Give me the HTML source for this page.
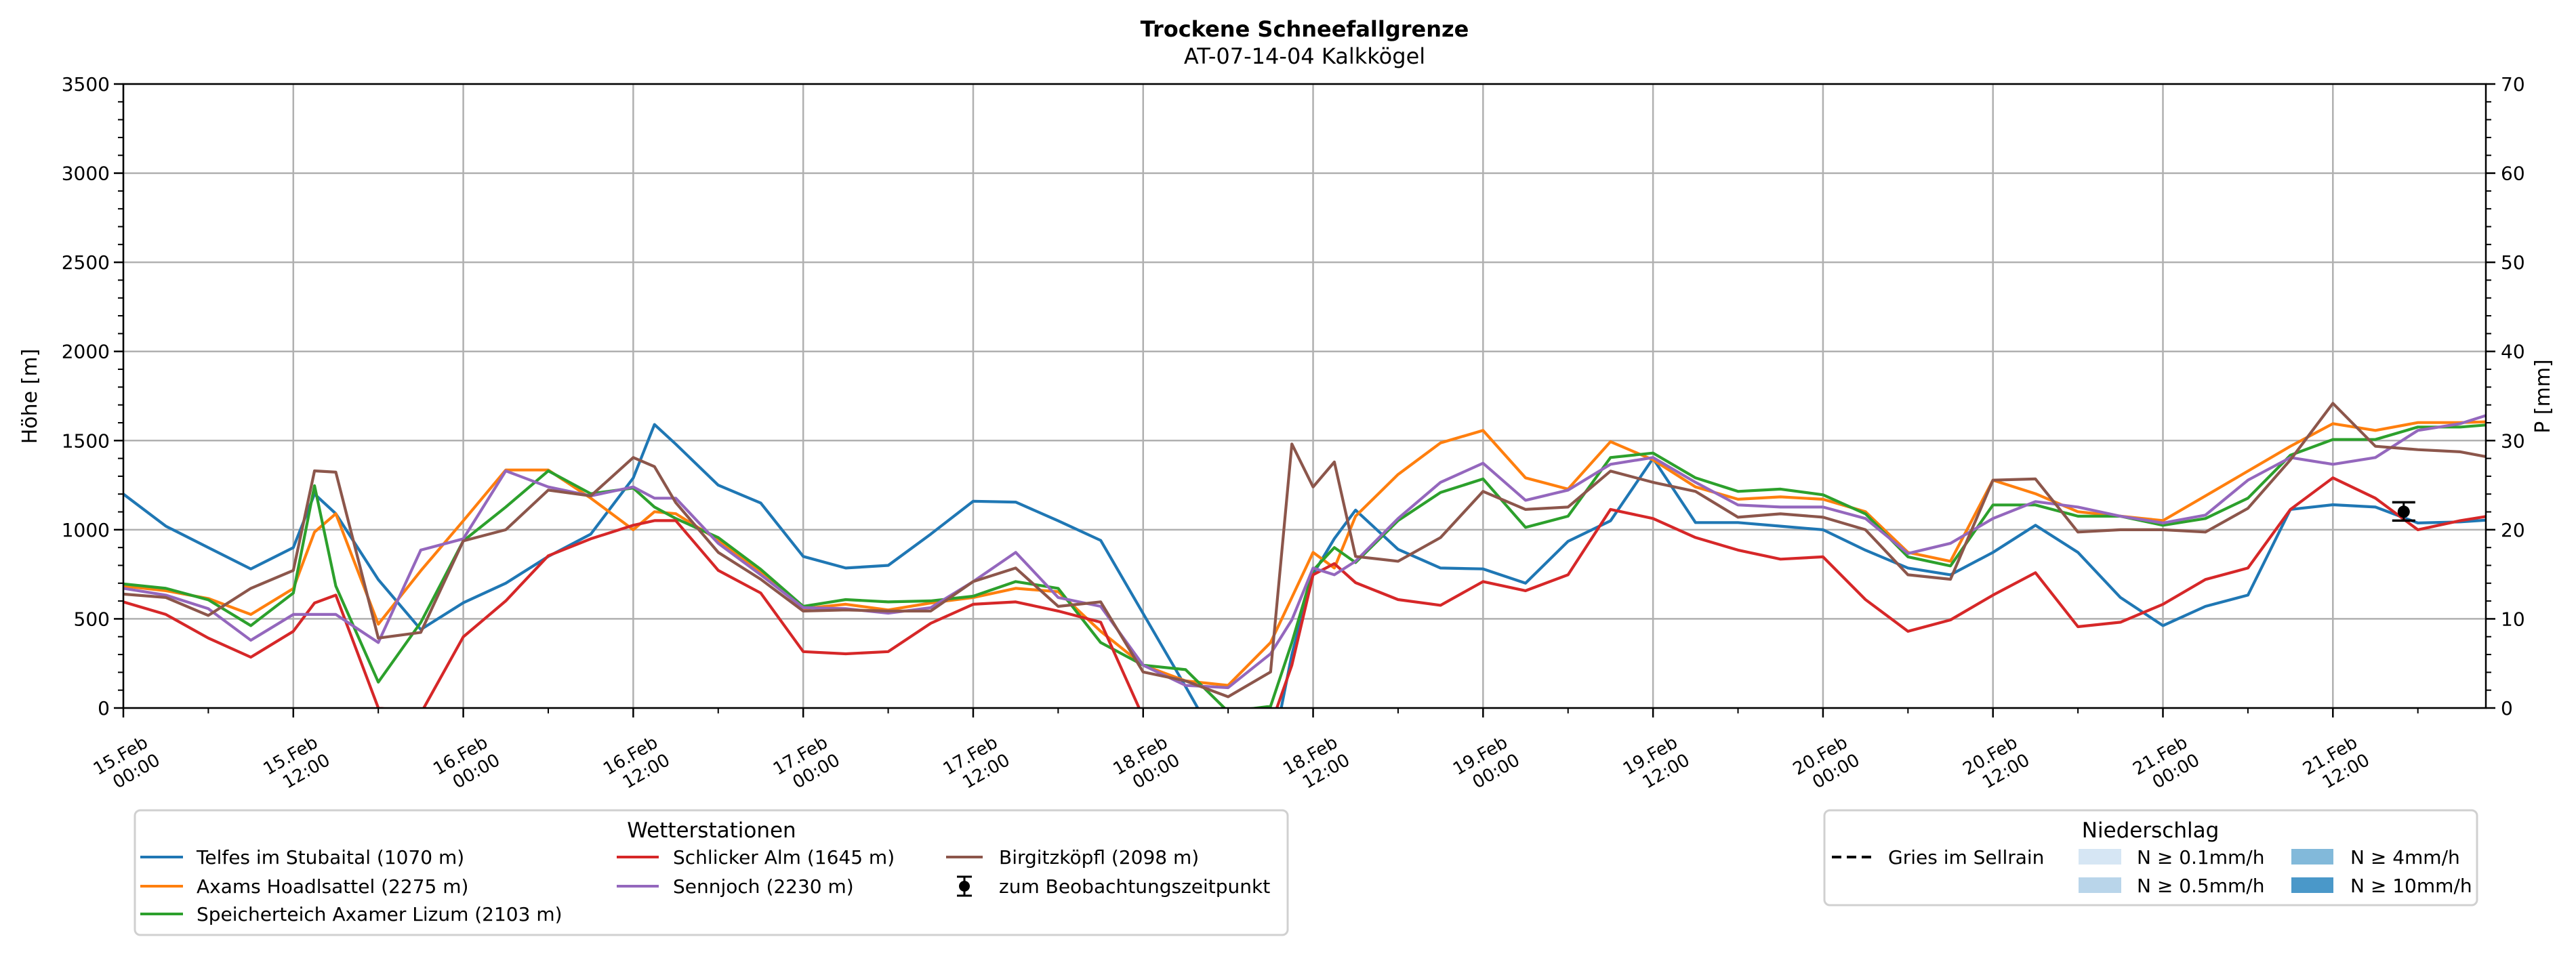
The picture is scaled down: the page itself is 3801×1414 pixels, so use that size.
<!DOCTYPE html>
<html><head><meta charset="utf-8"><title>Trockene Schneefallgrenze</title>
<style>
html,body{margin:0;padding:0;background:#fff;}
svg{display:block;font-family:"DejaVu Sans","Liberation Sans",sans-serif;}
</style></head>
<body>
<svg id="chart" width="3801" height="1414" viewBox="0 0 3801 1414" xmlns="http://www.w3.org/2000/svg">
<defs><clipPath id="plotclip"><rect x="182" y="124" width="3486" height="921"/></clipPath></defs>
<rect x="0" y="0" width="3801" height="1414" fill="#fff"/>
<text x="1925" y="54" text-anchor="middle" font-size="32" font-weight="bold">Trockene Schneefallgrenze</text>
<text x="1925" y="94" text-anchor="middle" font-size="32">AT-07-14-04 Kalkkögel</text>
<g id="grid"></g>
<g id="series" clip-path="url(#plotclip)"></g>
<g id="axes"></g>
<text transform="translate(54,585) rotate(-90)" text-anchor="middle" font-size="30">Höhe [m]</text>
<text transform="translate(3762,585) rotate(-90)" text-anchor="middle" font-size="30">P [mm]</text>

<g>
<rect x="199" y="1196" width="1701" height="184" rx="8" fill="#fff" stroke="#d0d0d0" stroke-width="3"/>
<text x="1050" y="1236" text-anchor="middle" font-size="31">Wetterstationen</text>
<g font-size="28">
<line x1="207" y1="1265" x2="270" y2="1265" stroke="#1f77b4" stroke-width="4"/>
<text x="290" y="1275">Telfes im Stubaital (1070 m)</text>
<line x1="207" y1="1308" x2="270" y2="1308" stroke="#ff7f0e" stroke-width="4"/>
<text x="290" y="1318">Axams Hoadlsattel (2275 m)</text>
<line x1="207" y1="1349" x2="270" y2="1349" stroke="#2ca02c" stroke-width="4"/>
<text x="290" y="1359">Speicherteich Axamer Lizum (2103 m)</text>
<line x1="910" y1="1265" x2="972" y2="1265" stroke="#d62728" stroke-width="4"/>
<text x="993" y="1275">Schlicker Alm (1645 m)</text>
<line x1="910" y1="1308" x2="972" y2="1308" stroke="#9467bd" stroke-width="4"/>
<text x="993" y="1318">Sennjoch (2230 m)</text>
<line x1="1396" y1="1265" x2="1450" y2="1265" stroke="#8c564b" stroke-width="4"/>
<text x="1474" y="1275">Birgitzköpfl (2098 m)</text>
<g>
<line x1="1423" y1="1294" x2="1423" y2="1322" stroke="#000" stroke-width="3"/>
<line x1="1412" y1="1294" x2="1434" y2="1294" stroke="#000" stroke-width="3"/>
<line x1="1412" y1="1322" x2="1434" y2="1322" stroke="#000" stroke-width="3"/>
<circle cx="1423" cy="1308" r="8" fill="#000"/>
</g>
<text x="1474" y="1318">zum Beobachtungszeitpunkt</text>
</g>
</g>

<g>
<rect x="2692" y="1196" width="963" height="140" rx="8" fill="#fff" stroke="#d0d0d0" stroke-width="3"/>
<text x="3173" y="1236" text-anchor="middle" font-size="31">Niederschlag</text>
<g font-size="28">
<line x1="2703" y1="1265" x2="2761" y2="1265" stroke="#000" stroke-width="4" stroke-dasharray="14,8"/>
<text x="2786" y="1275">Gries im Sellrain</text>
<rect x="3067" y="1253" width="63" height="23" fill="#d6e6f4"/>
<text x="3153" y="1275">N ≥ 0.1mm/h</text>
<rect x="3067" y="1295" width="63" height="23" fill="#b9d5ea"/>
<text x="3153" y="1317">N ≥ 0.5mm/h</text>
<rect x="3381" y="1253" width="62" height="23" fill="#82b9da"/>
<text x="3468" y="1275">N ≥ 4mm/h</text>
<rect x="3381" y="1295" width="62" height="23" fill="#4a98c9"/>
<text x="3468" y="1317">N ≥ 10mm/h</text>
</g>
</g>
</svg>
<script>
// data: hours since 15.Feb 00:00
const hours = [0,3,6,9,12,13.5,15,18,21,24,27,30,33,36,37.5,39,42,45,48,51,54,57,60,63,66,69,72,75,78,81,82.5,84,85.5,87,90,93,96,99,102,105,108,111,114,117,120,123,126,129,132,135,138,141,144,147,150,153,156,159,162,165,168];
const telfes = [1200,1020,900,780,900,1200,1090,720,440,590,700,850,975,1290,1590,1480,1250,1150,850,785,800,975,1160,1155,1050,940,530,120,-300,-300,300,750,950,1110,890,785,780,700,935,1050,1400,1040,1040,1020,1000,885,785,747,873,1025,873,620,462,570,633,1114,1140,1127,1038,1044,1060];
const axams = [684,658,614,525,670,987,1090,470,770,1050,1335,1335,1177,1000,1101,1090,943,759,557,582,550,589,620,671,652,430,240,152,127,367,620,873,785,1076,1310,1487,1557,1291,1228,1494,1392,1240,1171,1184,1171,1101,873,823,1278,1202,1101,1076,1051,1190,1329,1468,1595,1557,1601,1601,1608];
const speicherteich = [696,671,607,462,645,1247,684,145,480,937,1127,1330,1202,1234,1127,1063,956,778,570,608,595,601,627,709,671,367,240,215,-20,10,367,772,900,816,1051,1209,1285,1013,1076,1405,1430,1291,1215,1228,1196,1089,848,797,1139,1139,1076,1076,1025,1063,1177,1418,1506,1506,1576,1576,1595];
const schlicker = [595,525,392,285,430,589,633,0,-30,399,601,854,949,1025,1051,1051,772,645,316,304,316,475,582,595,544,481,-50,-100,-100,-100,240,747,810,703,608,576,709,658,747,1114,1063,956,886,835,848,608,430,494,633,759,456,481,582,721,785,1114,1291,1177,1000,1051,1089];
const sennjoch = [671,633,557,380,525,525,525,367,886,949,1330,1240,1190,1240,1177,1177,924,747,563,557,532,563,709,873,620,570,240,127,114,304,494,785,747,823,1063,1266,1373,1165,1222,1367,1405,1266,1139,1127,1127,1063,867,924,1063,1158,1127,1076,1038,1082,1278,1405,1367,1405,1557,1595,1671];
const birgitz = [639,620,519,671,772,1330,1323,392,424,937,1000,1222,1190,1405,1354,1152,873,722,544,550,544,544,709,785,570,595,202,152,63,202,1481,1240,1380,850,823,956,1215,1114,1127,1329,1266,1215,1070,1089,1070,1000,747,722,1278,1285,987,1000,1000,987,1120,1392,1709,1468,1449,1437,1392];
const obsHour = [161];
const obsValue = [1101];
const obsLow = [1051];
const obsHigh = [1154];
const yTicks = [0,500,1000,1500,2000,2500,3000,3500];
const y2Ticks = [0,10,20,30,40,50,60,70];
const xTickHours = [0,12,24,36,48,60,72,84,96,108,120,132,144,156];
const xTickDays = ["15.Feb","15.Feb","16.Feb","16.Feb","17.Feb","17.Feb","18.Feb","18.Feb","19.Feb","19.Feb","20.Feb","20.Feb","21.Feb","21.Feb"];
const xTickTimes = ["00:00","12:00","00:00","12:00","00:00","12:00","00:00","12:00","00:00","12:00","00:00","12:00","00:00","12:00"];

const L=182,R=3668,T=124,B=1045,HMAX=166.8,VMAX=3500,PMAX=70;
const xs = h => L + h*(R-L)/HMAX;
const ys = v => B - v*(B-T)/VMAX;
const ys2 = p => B - p*(B-T)/PMAX;
const NS='http://www.w3.org/2000/svg';
function mk(tag, attrs, parent){const e=document.createElementNS(NS,tag);for(const k in attrs)e.setAttribute(k,attrs[k]);parent.appendChild(e);return e;}
const grid=document.getElementById('grid'), axes=document.getElementById('axes'), series=document.getElementById('series');

yTicks.forEach(v=>{
  const g=mk('line',{x1:L,x2:R,y1:ys(v),y2:ys(v),stroke:'#b0b0b0','stroke-width':2.5},grid);
  
  
  const t=mk('line',{x1:L-14,x2:L,y1:ys(v),y2:ys(v),stroke:'#000','stroke-width':2.5},axes);
  
  
  const lb=mk('text',{x:L-20,y:ys(v)+10,'text-anchor':'end','font-size':28},axes);
  lb.textContent=v;
  
  
});
for(let v=100; v<VMAX; v+=100){ if(v%500===0) continue;
  const t=mk('line',{x1:L-8,x2:L,y1:ys(v),y2:ys(v),stroke:'#000','stroke-width':2},axes);
  
  
}
y2Ticks.forEach(p=>{
  const t=mk('line',{x1:R,x2:R+14,y1:ys2(p),y2:ys2(p),stroke:'#000','stroke-width':2.5},axes);
  
  
  const lb=mk('text',{x:R+22,y:ys2(p)+10,'text-anchor':'start','font-size':28},axes);
  lb.textContent=p;
  
  
});
for(let p=2; p<PMAX; p+=2){ if(p%10===0) continue;
  const t=mk('line',{x1:R,x2:R+8,y1:ys2(p),y2:ys2(p),stroke:'#000','stroke-width':2},axes);
  
  
}
xTickHours.forEach((h,i)=>{
  const x=xs(h);
  const g=mk('line',{x1:x,x2:x,y1:T,y2:B,stroke:'#b0b0b0','stroke-width':2.5},grid);
  
  
  const t=mk('line',{x1:x,x2:x,y1:B,y2:B+14,stroke:'#000','stroke-width':2.5},axes);
  
  
  const l1=mk('text',{'text-anchor':'end','font-size':26,transform:`translate(${x+38},${B+56}) rotate(-30)`},axes);
  l1.textContent=xTickDays[i];
  
  
  const l2=mk('text',{'text-anchor':'end','font-size':26,transform:`translate(${x+56},${B+82}) rotate(-30)`},axes);
  l2.textContent=xTickTimes[i];
  
  
  const m=mk('line',{x1:xs(h+6),x2:xs(h+6),y1:B,y2:B+8,stroke:'#000','stroke-width':2},axes);
  
  
});
mk('rect',{x:L,y:T,width:R-L,height:B-T,fill:'none',stroke:'#000','stroke-width':2.5},axes);

const seriesList=[[telfes,'#1f77b4','line-telfes'],[axams,'#ff7f0e','line-axams'],[speicherteich,'#2ca02c','line-speicherteich'],[schlicker,'#d62728','line-schlicker'],[sennjoch,'#9467bd','line-sennjoch'],[birgitz,'#8c564b','line-birgitz']];
seriesList.forEach(s=>{
  const pts=s[0].map((v,i)=>xs(hours[i]).toFixed(1)+','+ys(v).toFixed(1)).join(' ');
  const pl=mk('polyline',{points:pts,fill:'none',stroke:s[1],'stroke-width':4.2,'stroke-linejoin':'round'},series);
  
  
});
obsHour.forEach((h,i)=>{
  const x=xs(h);
  const g=mk('g',{},axes);
  
  
  mk('line',{x1:x,x2:x,y1:ys(obsLow[i]),y2:ys(obsHigh[i]),stroke:'#000','stroke-width':3},g);
  mk('line',{x1:x-17,x2:x+17,y1:ys(obsLow[i]),y2:ys(obsLow[i]),stroke:'#000','stroke-width':3.5},g);
  mk('line',{x1:x-17,x2:x+17,y1:ys(obsHigh[i]),y2:ys(obsHigh[i]),stroke:'#000','stroke-width':3.5},g);
  mk('circle',{cx:x,cy:ys(obsValue[i]),r:9,fill:'#000'},g);
});
</script>
</body></html>
